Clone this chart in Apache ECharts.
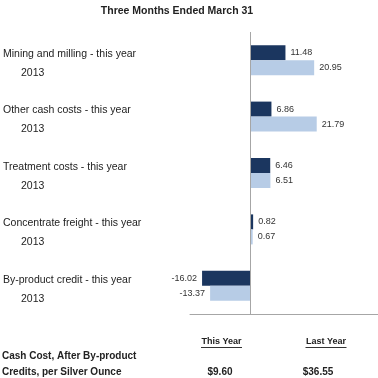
<!DOCTYPE html>
<html>
<head>
<meta charset="utf-8">
<script src="https://cdn.jsdelivr.net/npm/echarts@6/dist/echarts.min.js"></script>
<style>html,body{margin:0;padding:0;background:#fff}#c{width:378px;height:378px}</style>
</head>
<body>
<div id="c"></div>
<script>
var titleText = 'Three Months Ended March 31';
var categories = ['Mining and milling', 'Other cash costs', 'Treatment costs', 'Concentrate freight', 'By-product credit'];
var thisYearLabel = 'this year';
var lastYearLabel = '2013';
var thisYear = [11.48, 6.86, 6.46, 0.82, -16.02];
var lastYear = [20.95, 21.79, 6.51, 0.67, -13.37];
var summaryLabel = ['Cash Cost, After By-product', 'Credits, per Silver Ounce'];
var summaryHeaders = ['This Year', 'Last Year'];
var summaryValues = ['$9.60', '$36.55'];

var FONT = '"Liberation Sans", Arial, sans-serif';
function items(arr) {
  return arr.map(function (v) {
    return { value: v, label: { position: v < 0 ? 'left' : 'right' } };
  });
}
var headerX = [221.5, 326];
var valueX = [220, 318];
var headerW = [41, 41];
var graphics = [];
summaryHeaders.forEach(function (h, i) {
  graphics.push({ type: 'text', x: headerX[i], y: 342,
    style: { text: h, font: 'bold 9px ' + FONT, fill: '#222', align: 'center', verticalAlign: 'middle' } });
  graphics.push({ type: 'line', shape: { x1: headerX[i] - headerW[i] / 2, y1: 347.5, x2: headerX[i] + headerW[i] / 2, y2: 347.5 },
    style: { stroke: '#333', lineWidth: 1 } });
});
summaryValues.forEach(function (v, i) {
  graphics.push({ type: 'text', x: valueX[i], y: 372,
    style: { text: v, font: 'bold 10px ' + FONT, fill: '#222', align: 'center', verticalAlign: 'middle' } });
});
summaryLabel.forEach(function (t, i) {
  graphics.push({ type: 'text', x: 2, y: 356.5 + i * 15.5,
    style: { text: t, font: 'bold 10px ' + FONT, fill: '#222', verticalAlign: 'middle' } });
});

var chart = echarts.init(document.getElementById('c'), null, { renderer: 'canvas' });
chart.setOption({
  animation: false,
  backgroundColor: '#fff',
  title: {
    text: titleText, left: 172, top: 1, textAlign: 'center',
    textStyle: { fontFamily: FONT, fontSize: 10.5, fontWeight: 'bold', color: '#222' }
  },
  grid: { left: 190, right: 0, top: 32, bottom: 64, containLabel: false },
  xAxis: {
    type: 'value', min: -20, max: 42,
    axisLine: { show: true, onZero: false, lineStyle: { color: '#a6a6a6', width: 1 } },
    axisTick: { show: false }, axisLabel: { show: false }, splitLine: { show: false }
  },
  yAxis: {
    type: 'category', inverse: true, data: categories,
    axisLine: { show: false, onZero: false }, axisTick: { show: false },
    axisLabel: {
      margin: 187, align: 'left', padding: [7, 0, 0, 0],
      formatter: function (v) { return '{a|' + v + ' - ' + thisYearLabel + '}\n{b|' + lastYearLabel + '}'; },
      rich: {
        a: { fontFamily: FONT, fontSize: 10.5, color: '#222', lineHeight: 19 },
        b: { fontFamily: FONT, fontSize: 10.5, color: '#222', lineHeight: 19, padding: [0, 0, 0, 18] }
      }
    }
  },
  series: [
    {
      type: 'bar', name: 'This year', data: items(thisYear), barWidth: 15, barGap: '0%',
      itemStyle: { color: '#1b365f' },
      label: { show: true, distance: 5, fontFamily: FONT, fontSize: 9, color: '#333',
        formatter: function (p) { return p.value.toFixed(2); } },
      markLine: {
        silent: true, symbol: 'none', label: { show: false },
        lineStyle: { color: '#a6a6a6', width: 1, type: 'solid' },
        data: [{ xAxis: 0 }]
      }
    },
    {
      type: 'bar', name: '2013', data: items(lastYear), barWidth: 15, barGap: '0%',
      itemStyle: { color: '#b7cce6' },
      label: { show: true, distance: 5, fontFamily: FONT, fontSize: 9, color: '#333',
        formatter: function (p) { return p.value.toFixed(2); } }
    }
  ],
  graphic: graphics
});
</script>
</body>
</html>
